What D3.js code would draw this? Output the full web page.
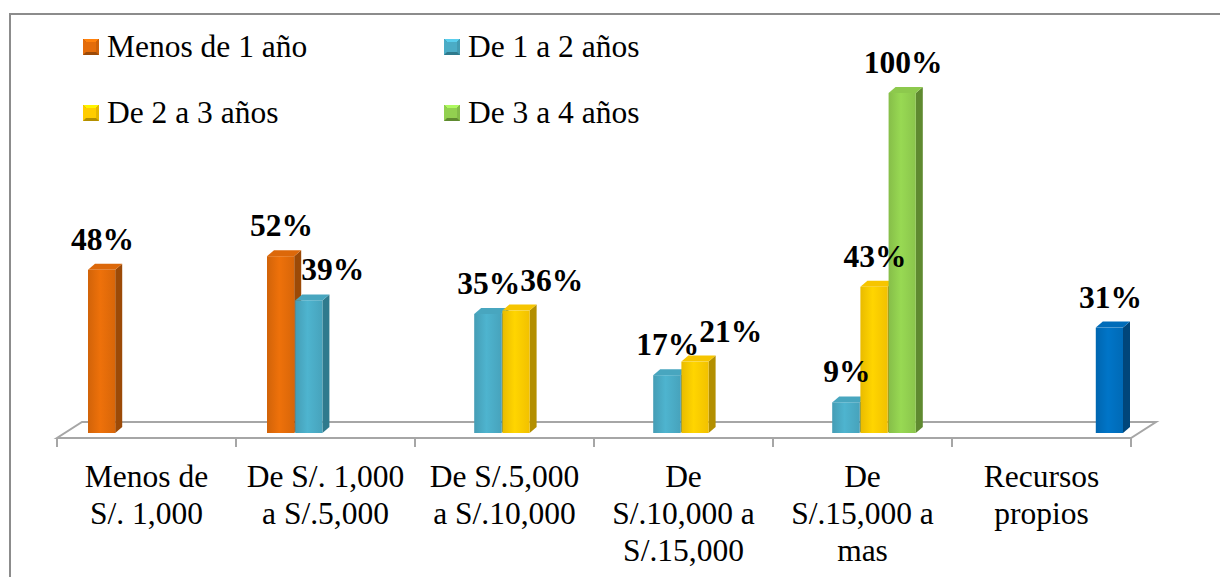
<!DOCTYPE html>
<html>
<head>
<meta charset="utf-8">
<script src="https://cdn.jsdelivr.net/npm/d3@7"></script>
</head>
<body style="margin:0">
<script>
// ---------------------------- data -----------------------------------
var categories = ['Menos de S/. 1,000', 'De S/. 1,000 a S/.5,000', 'De S/.5,000 a S/.10,000',
	'De S/.10,000 a S/.15,000', 'De S/.15,000 a mas', 'Recursos propios'];
var categoryLines = [
	['Menos de', 'S/. 1,000'],
	['De S/. 1,000', 'a S/.5,000'],
	['De S/.5,000', 'a S/.10,000'],
	['De', 'S/.10,000 a', 'S/.15,000'],
	['De', 'S/.15,000 a', 'mas'],
	['Recursos', 'propios']
];
var seriesNames = ['Menos de 1 año', 'De 1 a 2 años', 'De 2 a 3 años', 'De 3 a 4 años', 'Otros'];
var menos1 = [48, 52, null, null, null, null];
var de1a2 = [null, 39, 35, 17, 9, null];
var de2a3 = [null, null, 36, 21, 43, null];
var de3a4 = [null, null, null, null, 100, null];
var otros = [null, null, null, null, null, 31];
var seriesValues = [menos1, de1a2, de2a3, de3a4, otros];
var legendCount = 4;

var frontColors = ['#E46C0A', '#4BACC6', '#FFCC00', '#92D050', '#0070C0'];
var sideColors = ['#9C4A07', '#2F7A8D', '#B38F00', '#5F8A30', '#00467A'];

var FONT = "'Liberation Serif'";
var FS = 31.5;

// ---------------------------- d3 -----------------------------------
var width = 1220, height = 577;
var svg = d3.select('body').append('svg').attr('width', width).attr('height', height)
	.style('font-family', FONT);
var defs = svg.append('defs');

frontColors.forEach(function(c, i) {
	var g = defs.append('linearGradient').attr('id', 'front' + i).attr('x1', 0).attr('x2', 1).attr('y1', 0).attr('y2', 0);
	g.append('stop').attr('offset', '0%').attr('stop-color', d3.color(c).darker(0.25));
	g.append('stop').attr('offset', '45%').attr('stop-color', d3.color(c).brighter(0.12));
	g.append('stop').attr('offset', '100%').attr('stop-color', d3.color(c).darker(0.15));
});

// outer frame
svg.append('rect').attr('x', 10).attr('y', 14).attr('width', 1230).attr('height', 600)
	.attr('fill', 'none').attr('stroke', '#8C8C8C').attr('stroke-width', 2);

var depthX = 7, depthY = 6;
var floorDX = 25, floorDY = 16;

var x = d3.scaleBand().domain(categories).range([57, 1131]);
var xs = d3.scaleBand().domain(seriesNames).range([31, 171]).paddingInner(0.035);
var y = d3.scaleLinear().domain([0, 100]).range([433, 93]);
var floorY = 438;

// floor
var x0 = x.range()[0], x1 = x.range()[1];
svg.append('path')
	.attr('d', 'M' + x0 + ',' + floorY + 'L' + x1 + ',' + floorY + 'L' + (x1 + floorDX) + ',' + (floorY - floorDY) +
		'L' + (x0 + floorDX) + ',' + (floorY - floorDY) + 'Z')
	.attr('fill', 'none').attr('stroke', '#A6A6A6').attr('stroke-width', 2);

// ticks
var tickPos = categories.map(function(c) { return x(c); }).concat([x1]);
svg.selectAll('line.tick').data(tickPos).enter().append('line')
	.attr('class', 'tick')
	.attr('x1', function(d) { return d; }).attr('x2', function(d) { return d; })
	.attr('y1', floorY).attr('y2', floorY + 9)
	.attr('stroke', '#A6A6A6').attr('stroke-width', 2);

// bars
var bars = [];
seriesValues.forEach(function(vals, si) {
	vals.forEach(function(v, ci) {
		if (v === null) return;
		bars.push({ s: si, c: ci, v: v, x: x(categories[ci]) + xs(seriesNames[si]), w: xs.bandwidth(), top: y(v) });
	});
});

var gBars = svg.append('g');
bars.forEach(function(b) {
	var g = gBars.append('g');
	var bot = y(0);
	g.append('path')
		.attr('d', 'M' + (b.x + b.w) + ',' + b.top + 'L' + (b.x + b.w + depthX) + ',' + (b.top - depthY) +
			'L' + (b.x + b.w + depthX) + ',' + (bot - depthY) + 'L' + (b.x + b.w) + ',' + bot + 'Z')
		.attr('fill', sideColors[b.s]);
	g.append('path')
		.attr('d', 'M' + b.x + ',' + b.top + 'L' + (b.x + depthX) + ',' + (b.top - depthY) +
			'L' + (b.x + b.w + depthX) + ',' + (b.top - depthY) + 'L' + (b.x + b.w) + ',' + b.top + 'Z')
		.attr('fill', d3.color(frontColors[b.s]).darker(0.1));
	g.append('rect')
		.attr('x', b.x).attr('y', b.top).attr('width', b.w).attr('height', bot - b.top)
		.attr('fill', 'url(#front' + b.s + ')');
});

// data labels, nudged right when they hit the previous label or bar in a cluster
var gLabels = svg.append('g');
var capH = 22;
categories.forEach(function(c, ci) {
	var obstacles = [];
	bars.filter(function(b) { return b.c === ci; }).forEach(function(b) {
		var t = gLabels.append('text')
			.style('font-family', FONT)
			.attr('font-size', FS).attr('font-weight', 'bold').attr('fill', '#000')
			.text(b.v + '%');
		var tw = t.node().getComputedTextLength();
		var base = b.top - 20;
		var left = b.x + b.w / 2 + 1 - tw / 2;
		var box = { x0: left, x1: left + tw, y0: base - capH, y1: base };
		obstacles.forEach(function(o) {
			if (box.x0 < o.x1 && box.x1 > o.x0 && box.y0 < o.y1 && box.y1 > o.y0) {
				box.x0 = o.x1;
				box.x1 = box.x0 + tw;
			}
		});
		t.attr('x', box.x0).attr('y', base);
		obstacles.push({ x0: b.x, x1: b.x + b.w + depthX, y0: b.top - depthY, y1: y(0) });
		obstacles.push(box);
	});
});

// category labels
var gCat = svg.append('g');
categories.forEach(function(c, ci) {
	var t = gCat.append('text')
		.style('font-family', FONT)
		.attr('text-anchor', 'middle').attr('font-size', FS).attr('fill', '#000');
	categoryLines[ci].forEach(function(line, li) {
		t.append('tspan').attr('x', x(c) + x.bandwidth() / 2).attr('y', 487 + li * 37).text(line);
	});
});

// legend
var legendX = [83, 444];
var legendY = [39, 105];
var legend = svg.append('g');
seriesNames.slice(0, legendCount).forEach(function(name, i) {
	var lx = legendX[i % 2], ly = legendY[Math.floor(i / 2)];
	var g = legend.append('g').attr('transform', 'translate(' + lx + ',' + ly + ')');
	g.append('rect').attr('width', 16).attr('height', 16).attr('fill', sideColors[i]);
	g.append('path').attr('d', 'M0,0L16,0L8,8Z').attr('fill', d3.color(frontColors[i]).brighter(0.5));
	g.append('path').attr('d', 'M0,0L8,8L0,16Z').attr('fill', frontColors[i]);
	g.append('path').attr('d', 'M16,0L8,8L16,16Z').attr('fill', d3.color(frontColors[i]).darker(0.3));
	g.append('rect').attr('x', 3).attr('y', 3).attr('width', 10).attr('height', 10).attr('fill', frontColors[i]);
	g.append('text').style('font-family', FONT).attr('x', 24).attr('y', 18)
		.attr('font-size', FS).attr('fill', '#000').text(name);
});
</script>
</body>
</html>
